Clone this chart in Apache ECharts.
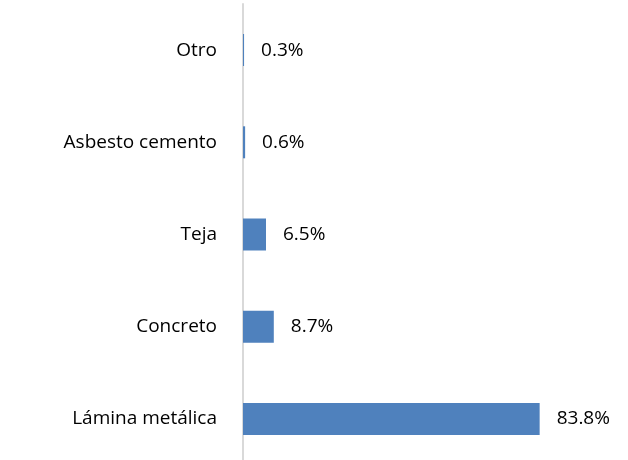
<!DOCTYPE html>
<html>
<head>
<meta charset="UTF-8">
<script src="https://cdn.jsdelivr.net/npm/echarts@6/dist/echarts.min.js"></script>
<style>
  html, body { margin: 0; padding: 0; background: #fff; }
  #chart { width: 628px; height: 460px; }
</style>
</head>
<body>
<div id="chart"></div>
<script>
// datos del gráfico
var categorias = ['Otro', 'Asbesto cemento', 'Teja', 'Concreto', 'Lámina metálica'];
var valores = [0.3, 0.6, 6.5, 8.7, 83.8];

var chart = echarts.init(document.getElementById('chart'));
chart.setOption({
    animation: false,
    grid: { left: 243, width: 354, top: 4, height: 461, outerBoundsMode: 'none' },
    xAxis: {
        type: 'value',
        min: 0,
        max: 100,
        show: false
    },
    yAxis: {
        type: 'category',
        data: categorias,
        inverse: true,
        axisLine: { show: true, lineStyle: { color: '#d9d9d9', width: 2 } },
        axisTick: { show: false },
        axisLabel: {
            margin: 26,
            fontFamily: 'Open Sans',
            fontSize: 19,
            color: '#000'
        }
    },
    series: [{
        type: 'bar',
        data: valores,
        barWidth: 32,
        itemStyle: { color: '#4f81bd' },
        label: {
            show: true,
            position: 'right',
            distance: 17,
            fontFamily: 'Open Sans',
            fontSize: 19,
            color: '#000',
            formatter: function (p) { return p.value.toFixed(1) + '%'; }
        }
    }]
});
</script>
</body>
</html>
